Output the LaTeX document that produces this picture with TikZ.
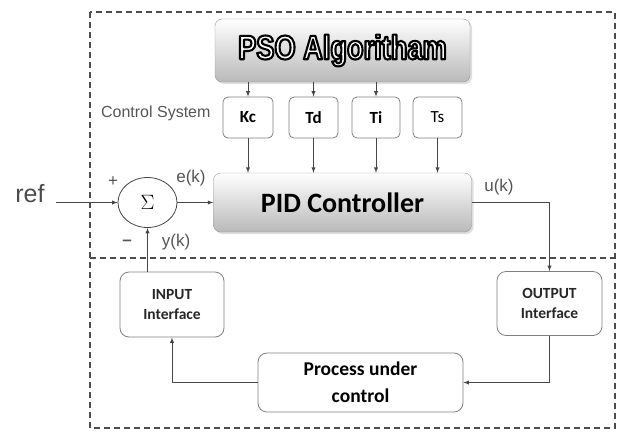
\documentclass[tikz,border=0pt]{standalone}
\usepackage{fontspec}
\usepackage{tikz}
\usetikzlibrary{shapes.geometric,shadows}
\setmainfont{Carlito}
\newfontfamily\arialfont{Liberation Sans}
\newfontfamily\psofont[FakeStretch=0.8]{Liberation Sans}
\definecolor{linegray}{RGB}{70,70,70}
\definecolor{labelgray}{RGB}{85,85,85}

% white letters with a black rim (fill+stroke render mode)
\newcommand{\rimtext}[1]{\textcolor{white}{\special{pdf:literal direct 0 G 2.1 w 1 j 2 Tr}#1\special{pdf:literal direct 0 Tr}}}

\tikzset{
  arr/.style={draw=linegray,line width=0.9pt,-latex},
  parbox/.style={draw=gray,rounded corners=5pt,line width=0.8pt,minimum height=41pt,
    font=\bfseries\fontsize{17}{17}\selectfont},
  iobox/.style={draw=gray,rounded corners=9pt,line width=0.8pt,align=center,
    font=\bfseries\fontsize{15.5}{20}\selectfont,text=black!85},
  bigbox/.style={draw=gray!80,rounded corners=7pt,top color=white,bottom color=gray!55,
    drop shadow={opacity=0.25,shadow xshift=2pt,shadow yshift=-2pt}},
  lbl/.style={font=\arialfont\fontsize{17}{17}\selectfont,text=labelgray},
}

\begin{document}
\begin{tikzpicture}[x=1pt,y=-1pt]
\useasboundingbox (0,0) rectangle (618,432);
% frame
\draw[dash pattern=on 6pt off 4pt,gray!60!black,line width=1.1pt] (90,12) rectangle (615,428);
\draw[dash pattern=on 6pt off 4pt,gray!60!black,line width=1.1pt] (90,258) -- (615,258);

% tuning part
\node[bigbox,minimum width=255pt,minimum height=63pt,
  font=\psofont\bfseries\fontsize{34}{34}\selectfont] (pso) at (342.5,50.5) {\rimtext{PSO Algoritham}\hspace{8pt}};

\node[parbox,minimum width=50pt] (kc) at (248,117.5) {Kc};
\node[parbox,minimum width=49pt] (td) at (313.5,117.5) {Td};
\node[parbox,minimum width=48pt] (ti) at (376,117.5) {Ti};
\node[parbox,minimum width=49pt,font=\fontsize{17}{17}\selectfont] (ts) at (437.5,117.5) {Ts};
\node[lbl,anchor=east,font=\arialfont\fontsize{16}{16}\selectfont] (ctrlsys) at (214,113) {Control System};

\node[bigbox,minimum width=258pt,minimum height=59pt,
  font=\bfseries\fontsize{28}{28}\selectfont] (pid) at (342.5,202.5) {PID Controller};

\foreach \p in {kc,td,ti}
  \draw[arr] (pso.south -| \p.north) -- (\p.north);
\foreach \p in {kc,td,ti,ts}
  \draw[arr] (\p.south) -- (\p.south |- pid.north);

% loop
\node[ellipse,draw=linegray,line width=0.8pt,minimum width=59pt,minimum height=50pt,inner sep=0pt,
  font=\fontsize{21}{21}\selectfont] (sum) at (147.5,202.5) {$\Sigma$};
\node[lbl,text=black!70,font=\arialfont\fontsize{25}{25}\selectfont] (ref) at (30,194) {ref};
\coordinate (refin) at (56,202.5);
\node[lbl] (plus) at (113,182) {+};
\node[lbl,font=\arialfont\bfseries\fontsize{17}{17}\selectfont] (minus) at (127,243) {\textendash};
\node[lbl] (ek) at (191,178) {e(k)};
\node[lbl] (yk) at (176,242) {y(k)};
\node[lbl] (uk) at (499,187) {u(k)};

\node[iobox,minimum width=104pt,minimum height=65pt] (inp) at (172,304.5) {INPUT\\Interface};
\node[iobox,minimum width=105pt,minimum height=64pt] (outp) at (549.5,303.5) {OUTPUT\\Interface};
\node[iobox,minimum width=205pt,minimum height=59pt,text=black,
  font=\bfseries\fontsize{19.5}{27}\selectfont] (proc) at (360.5,382.5) {Process under\\control};

\draw[arr] (refin) -- (sum.west);
\draw[arr] (sum.east) -- (pid.west);
\draw[arr] (pid.east) -| (outp.north);
\draw[arr] (outp.south) |- (proc.east);
\draw[arr] (proc.west) -| (inp.south);
\draw[arr] (inp.north -| sum.south) -- (sum.south);
\end{tikzpicture}
\end{document}
